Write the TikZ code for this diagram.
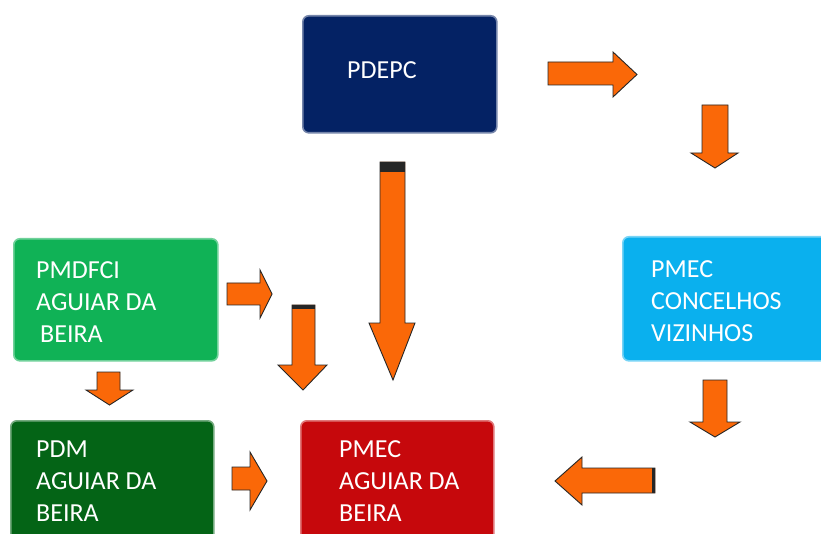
\documentclass[tikz,border=0pt]{standalone}
\usepackage{fontspec}
\setmainfont{Carlito}
\definecolor{navy}{RGB}{4,34,100}
\definecolor{lgreen}{RGB}{16,178,86}
\definecolor{dgreen}{RGB}{4,100,22}
\definecolor{cyanb}{RGB}{10,176,238}
\definecolor{redb}{RGB}{198,8,12}
\definecolor{arr}{RGB}{250,104,8}
\begin{document}
\begin{tikzpicture}[x=1pt,y=-1pt,
  box/.style={rounded corners=6pt, line width=1.6pt, minimum width=#1, inner sep=0pt, anchor=north west},
  lbl/.style={text=white, font=\fontsize{26}{32}\selectfont, align=left, inner sep=0pt, anchor=west},
  barrow/.style={fill=arr, draw=black!85, line width=0.9pt, line join=miter}]
\useasboundingbox (0,0) rectangle (821,534);
\clip (0,0) rectangle (821,534);
% boxes
\node[box=194pt, minimum height=117pt, fill=navy, draw=navy!55!white] (pdepc) at (302,15) {};
\node[lbl] (pdepct) at (347,70) {PDEPC};
\node[box=204pt, minimum height=122pt, fill=lgreen, draw=lgreen!60!white] (pmdfci) at (13,238) {};
\node[lbl] (pmdfcit) at (36,302) {PMDFCI\\AGUIAR DA\\\hspace{4pt}BEIRA};
\node[box=210pt, minimum height=124pt, fill=cyanb, draw=cyanb!55!white] (pmeccv) at (622,236) {};
\node[lbl] (pmeccvt) at (651,301) {PMEC\\CONCELHOS\\VIZINHOS};
\node[box=203pt, minimum height=130pt, fill=dgreen, draw=dgreen!55!white] (pdm) at (10,420) {};
\node[lbl] (pdmt) at (36,481) {PDM\\AGUIAR DA\\BEIRA};
\node[box=193pt, minimum height=130pt, fill=redb, draw=redb!55!white] (pmec) at (300,420) {};
\node[lbl] (pmect) at (339,481) {PMEC\\AGUIAR DA\\BEIRA};
% block arrows
\draw[barrow] (548,62) -- (613,62) -- (613,52) -- (637,74.5) -- (613,97) -- (613,85) -- (548,85) -- cycle;
\draw[barrow] (702,105) -- (728,105) -- (728,153) -- (738,153) -- (715,168) -- (691,153) -- (702,153) -- cycle;
\draw[barrow] (380,162) -- (405,162) -- (405,323) -- (415,323) -- (393,380) -- (369,323) -- (380,323) -- cycle;
\fill[black!85] (380,162) rectangle (405,172);
\draw[barrow] (227,283) -- (260,283) -- (260,270) -- (272,294) -- (260,318) -- (260,305) -- (227,305) -- cycle;
\draw[barrow] (292,305) -- (315,305) -- (315,365) -- (327,365) -- (303,390) -- (278,365) -- (292,365) -- cycle;
\fill[black!85] (292,305) rectangle (315,309);
\draw[barrow] (97,372) -- (120,372) -- (120,390) -- (133,390) -- (109.5,405) -- (86,390) -- (97,390) -- cycle;
\draw[barrow] (703,380) -- (727,380) -- (727,422) -- (740,422) -- (715,437) -- (690,422) -- (703,422) -- cycle;
\draw[barrow] (232,467) -- (250,467) -- (250,452) -- (267,481) -- (250,510) -- (250,490) -- (232,490) -- cycle;
\draw[barrow] (655,468) -- (582,468) -- (582,457) -- (555,481) -- (582,505) -- (582,493) -- (655,493) -- cycle;
\fill[black!85] (652,468) rectangle (655,493);
\end{tikzpicture}
\end{document}
